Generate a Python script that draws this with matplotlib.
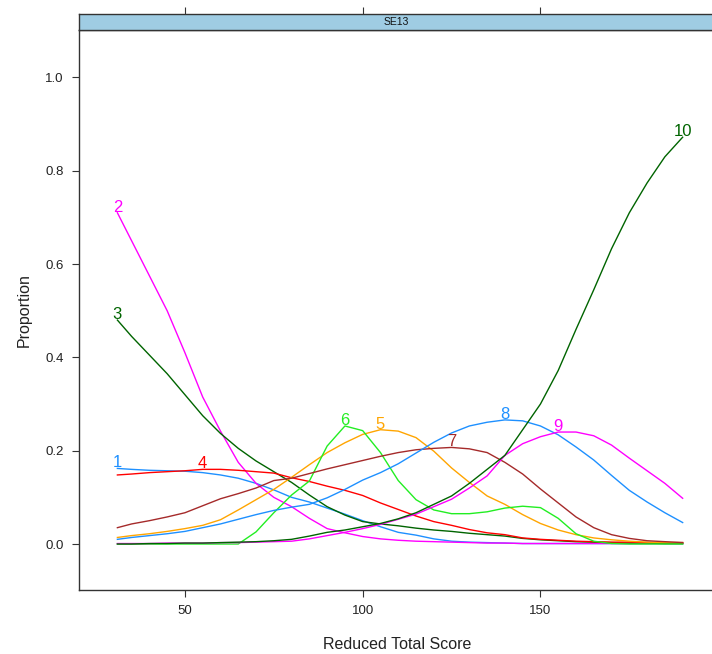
import matplotlib
matplotlib.use("Agg")
import matplotlib.pyplot as plt
import numpy as np

plt.rcParams['font.family'] = ['Liberation Sans', 'DejaVu Sans']

score = [31, 35, 40, 45, 50, 55, 60, 65, 70, 75, 80, 85, 90, 95, 100, 105, 110,
         115, 120, 125, 130, 135, 140, 145, 150, 155, 160, 165, 170, 175, 180, 185, 190]

opt1 = [0.162, 0.160, 0.158, 0.157, 0.156, 0.153, 0.148, 0.141, 0.130, 0.116, 0.100,
        0.090, 0.077, 0.064, 0.050, 0.037, 0.025, 0.019, 0.011, 0.006, 0.004, 0.003,
        0.002, 0.001, 0.001, 0.001, 0.001, 0.001, 0.001, 0.001, 0.001, 0.001, 0.001]
opt2 = [0.710, 0.650, 0.575, 0.500, 0.410, 0.315, 0.242, 0.175, 0.130, 0.100, 0.080,
        0.055, 0.033, 0.024, 0.016, 0.011, 0.008, 0.006, 0.005, 0.004, 0.003, 0.002,
        0.002, 0.001, 0.001, 0.001, 0.001, 0.001, 0.001, 0.001, 0.001, 0.001, 0.001]
opt3 = [0.480, 0.445, 0.405, 0.365, 0.320, 0.275, 0.237, 0.205, 0.178, 0.155, 0.132,
        0.105, 0.080, 0.062, 0.048, 0.043, 0.039, 0.034, 0.030, 0.027, 0.023, 0.020,
        0.017, 0.012, 0.009, 0.007, 0.005, 0.004, 0.003, 0.002, 0.002, 0.001, 0.001]
opt4 = [0.148, 0.150, 0.153, 0.155, 0.157, 0.160, 0.160, 0.158, 0.155, 0.152, 0.142,
        0.134, 0.124, 0.115, 0.104, 0.088, 0.074, 0.060, 0.048, 0.040, 0.031, 0.024,
        0.020, 0.013, 0.010, 0.008, 0.006, 0.005, 0.004, 0.004, 0.003, 0.003, 0.003]
opt5 = [0.014, 0.018, 0.022, 0.027, 0.033, 0.040, 0.052, 0.073, 0.095, 0.117, 0.143,
        0.170, 0.196, 0.217, 0.235, 0.245, 0.242, 0.228, 0.199, 0.163, 0.132, 0.103,
        0.085, 0.063, 0.044, 0.030, 0.020, 0.013, 0.009, 0.006, 0.004, 0.003, 0.003]
opt6 = [0.000, 0.000, 0.000, 0.000, 0.000, 0.000, 0.000, 0.000, 0.026, 0.067, 0.105,
        0.135, 0.210, 0.253, 0.243, 0.196, 0.136, 0.095, 0.073, 0.065, 0.065, 0.069,
        0.077, 0.081, 0.078, 0.055, 0.022, 0.006, 0.001, 0.000, 0.000, 0.000, 0.000]
opt7 = [0.035, 0.043, 0.050, 0.058, 0.067, 0.082, 0.097, 0.108, 0.120, 0.136, 0.141,
        0.151, 0.161, 0.170, 0.179, 0.188, 0.196, 0.202, 0.205, 0.207, 0.204, 0.196,
        0.175, 0.150, 0.118, 0.088, 0.058, 0.035, 0.020, 0.012, 0.007, 0.005, 0.003]
opt8 = [0.010, 0.014, 0.018, 0.022, 0.027, 0.035, 0.043, 0.053, 0.063, 0.072, 0.079,
        0.085, 0.099, 0.117, 0.137, 0.153, 0.172, 0.195, 0.218, 0.238, 0.253, 0.261,
        0.266, 0.264, 0.253, 0.234, 0.208, 0.180, 0.147, 0.115, 0.090, 0.067, 0.046]
opt9 = [0.001, 0.001, 0.001, 0.002, 0.002, 0.002, 0.003, 0.003, 0.004, 0.005, 0.006,
        0.011, 0.018, 0.025, 0.033, 0.042, 0.053, 0.064, 0.080, 0.096, 0.120, 0.146,
        0.190, 0.215, 0.230, 0.240, 0.240, 0.232, 0.212, 0.184, 0.157, 0.130, 0.098]
opt10 = [0.000, 0.000, 0.001, 0.001, 0.002, 0.002, 0.003, 0.004, 0.005, 0.007, 0.010,
         0.017, 0.025, 0.030, 0.037, 0.044, 0.054, 0.067, 0.085, 0.103, 0.130, 0.160,
         0.190, 0.245, 0.300, 0.372, 0.460, 0.545, 0.633, 0.710, 0.774, 0.830, 0.872]

options = ["1", "2", "3", "4", "5", "6", "7", "8", "9", "10"]
series = [opt1, opt2, opt3, opt4, opt5, opt6, opt7, opt8, opt9, opt10]
colors = ["#1E90FF", "#FF00FF", "#006400", "#FF0000", "#FFA500",
          "#22EE22", "#A52A2A", "#1E90FF", "#FF00FF", "#006400"]

panel_title = "SE13"
xlabel = "Reduced Total Score"
ylabel = "Proportion"
xticks = [50, 100, 150]
yticks = [0.0, 0.2, 0.4, 0.6, 0.8, 1.0]

W, H = 712, 654
fig = plt.figure(figsize=(W / 100, H / 100), dpi=100)

left_px, right_px = 79, 715
bottom_px, top_px = 590, 30
strip_top_px = 14

ax = fig.add_axes([left_px / W, (H - bottom_px) / H,
                   (right_px - left_px) / W, (bottom_px - top_px) / H])
strip = fig.add_axes([left_px / W, (H - top_px) / H,
                      (right_px - left_px) / W, (top_px - strip_top_px) / H])

xlim = (20.2, 199.1)
ylim = (-0.0986, 1.1018)

x = np.array(score)
for name, vals, col in zip(options, series, colors):
    y = np.array(vals)
    ax.plot(x, y, color=col, lw=1.0, solid_joinstyle='round')
    i = int(np.argmax(y))
    ax.annotate(name, (x[i], y[i]), xytext=(0, 4), textcoords='offset points',
                ha='center', va='center', color=col, fontsize=12)

ax.set_xlim(*xlim)
ax.set_ylim(*ylim)
ax.set_xticks(xticks)
ax.set_yticks(yticks)
ax.set_yticklabels([f"{v:.1f}" for v in yticks])
for s in ax.spines.values():
    s.set_color("#333333")
    s.set_linewidth(1.0)
ax.tick_params(axis='both', direction='out', length=5, width=0.8,
               color="#333333", labelsize=9.5, labelcolor="#222222", pad=6)
ax.tick_params(axis='x', top=False, right=False)
ax.tick_params(axis='y', right=False)
ax.set_xlabel(xlabel, fontsize=11.5, color="#222222", labelpad=14)
ax.set_ylabel(ylabel, fontsize=11.5, color="#222222", labelpad=10)

strip.set_facecolor("#9FCCE3")
strip.set_xlim(*xlim)
strip.set_ylim(0, 1)
strip.set_yticks([])
strip.set_xticks(xticks)
strip.tick_params(axis='x', bottom=False, top=True, labelbottom=False,
                  labeltop=False, direction='out', length=5, width=0.8,
                  color="#333333")
for s in strip.spines.values():
    s.set_color("#333333")
    s.set_linewidth(1.0)
strip.text(0.5 * (xlim[0] + xlim[1]) - 0.3, 0.5, panel_title, ha='center',
           va='center', fontsize=7.5, color="#111111")

fig.savefig("out.png", dpi=100)
